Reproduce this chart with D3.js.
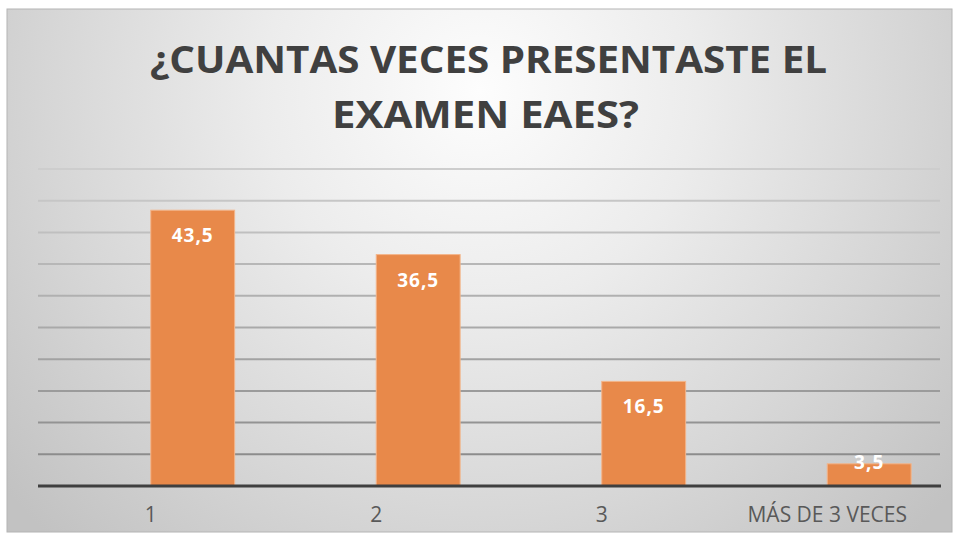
<!DOCTYPE html>
<html>
<head>
<meta charset="utf-8">
<script src="https://cdn.jsdelivr.net/npm/d3@7/dist/d3.min.js"></script>
<style>
  html, body { margin: 0; padding: 0; background: #ffffff; }
  svg { display: block; }
</style>
</head>
<body>
<svg id="chart" width="958" height="537"></svg>
<script>
// ---- data ----
const titleLines = ["¿CUANTAS VECES PRESENTASTE EL", "EXAMEN EAES?"];
const categories = ["1", "2", "3", "MÁS DE 3 VECES"];
const values = [43.5, 36.5, 16.5, 3.5];
const valueLabels = ["43,5", "36,5", "16,5", "3,5"];
const yDomain = [0, 50];
const yTickStep = 5;

// ---- layout ----
const W = 958, H = 537;
const frame = { x: 7, y: 9, w: 945, h: 523 };
const plot = { left: 38, right: 940, top: 169, bottom: 486 };

const svg = d3.select("#chart");
const defs = svg.append("defs");

const grad = defs.append("radialGradient")
  .attr("id", "bg")
  .attr("gradientUnits", "userSpaceOnUse")
  .attr("cx", 480).attr("cy", 90).attr("r", 620)
  .attr("fx", 480).attr("fy", 90);
grad.append("stop").attr("offset", "0%").attr("stop-color", "#fdfdfd");
grad.append("stop").attr("offset", "35%").attr("stop-color", "#ececec");
grad.append("stop").attr("offset", "70%").attr("stop-color", "#d6d6d6");
grad.append("stop").attr("offset", "100%").attr("stop-color", "#c2c2c2");

svg.append("rect")
  .attr("x", frame.x).attr("y", frame.y)
  .attr("width", frame.w).attr("height", frame.h)
  .attr("fill", "url(#bg)")
  .attr("stroke", "#b4b4b4").attr("stroke-width", 1);

// ---- scales ----
const x = d3.scaleBand().domain(categories).range([plot.left, plot.right]).padding(0);
const y = d3.scaleLinear().domain(yDomain).range([plot.bottom, plot.top]);
const bw = x.bandwidth();
const barW = bw * 0.372;

// ---- gridlines ----
const gridTicks = d3.range(yDomain[0] + yTickStep, yDomain[1] + 0.001, yTickStep);
const gridColor = d3.scaleLinear().domain([yDomain[1], yDomain[0]]).range(["#cdcdcd", "#858585"]);
svg.append("g").selectAll("line").data(gridTicks).join("line")
  .attr("x1", plot.left).attr("x2", plot.right)
  .attr("y1", d => y(d)).attr("y2", d => y(d))
  .attr("stroke", d => gridColor(d)).attr("stroke-width", 2);

// ---- bars ----
const data = categories.map((c, i) => ({ c, v: values[i], l: valueLabels[i] }));
svg.append("g").selectAll("rect").data(data).join("rect")
  .attr("x", d => x(d.c) + bw / 2)
  .attr("y", d => y(d.v))
  .attr("width", barW)
  .attr("height", d => y(0) - y(d.v))
  .attr("fill", "#e8894a")
  .attr("stroke", "#f3b58a").attr("stroke-width", 1);

// ---- value labels ----
svg.append("g").selectAll("text").data(data).join("text")
  .attr("x", d => x(d.c) + bw / 2 + barW / 2)
  .attr("y", d => Math.min(y(d.v) + 32, y(0) - 17))
  .attr("text-anchor", "middle")
  .attr("font-family", "'Open Sans', sans-serif")
  .attr("font-weight", 700)
  .attr("font-size", 19)
  .attr("letter-spacing", 1)
  .attr("fill", "#ffffff")
  .text(d => d.l);

// ---- x axis ----
const xAxis = svg.append("g")
  .attr("transform", `translate(0,${plot.bottom})`)
  .call(d3.axisBottom(x).tickSize(0).tickPadding(0));
xAxis.select(".domain").remove();
svg.append("line")
  .attr("x1", plot.left).attr("x2", plot.right + 1)
  .attr("y1", plot.bottom).attr("y2", plot.bottom)
  .attr("stroke", "#3f3f3f").attr("stroke-width", 3);
xAxis.selectAll(".tick text")
  .attr("y", 36)
  .attr("dy", 0)
  .attr("font-family", "'Open Sans', sans-serif")
  .attr("font-size", 21)
  .attr("fill", "#595959");

// ---- title ----
const titleSpec = [
  { t: titleLines[0], cx: 488.5, y: 73, w: 677 },
  { t: titleLines[1], cx: 485.5, y: 128, w: 307 }
];
svg.append("g").selectAll("text").data(titleSpec).join("text")
  .attr("x", d => d.cx)
  .attr("y", d => d.y)
  .attr("text-anchor", "middle")
  .attr("font-family", "'Open Sans', sans-serif")
  .attr("font-weight", 700)
  .attr("font-size", 38)
  .attr("fill", "#404040")
  .attr("textLength", d => d.w)
  .attr("lengthAdjust", "spacingAndGlyphs")
  .text(d => d.t);
</script>
</body>
</html>
